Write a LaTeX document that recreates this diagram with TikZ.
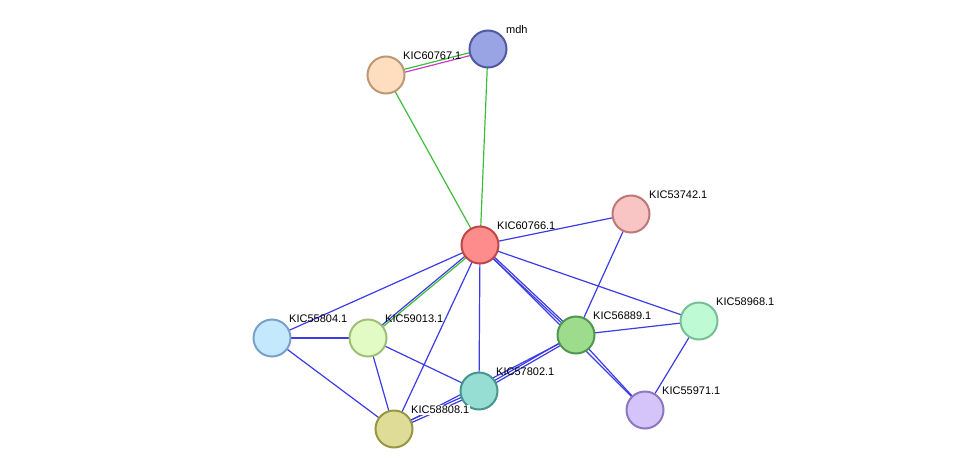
\documentclass[tikz,border=0pt]{standalone}
\usepackage{fontspec}
\setmainfont{Liberation Sans}
\begin{document}
\begin{tikzpicture}[x=1pt,y=-1pt,
  prot/.style={circle,minimum size=37pt,inner sep=0,line width=2pt},
  lab/.style={font=\fontsize{11}{13}\selectfont,inner sep=1pt,anchor=south west},
  b/.style={draw={rgb,255:red,60;green,60;blue,230},line width=1.2pt},
  g/.style={draw={rgb,255:red,60;green,190;blue,60},line width=1.2pt},
  m/.style={draw={rgb,255:red,200;green,60;blue,200},line width=1.2pt}]
\useasboundingbox (0,0) rectangle (975,474);
\def\pn#1#2#3#4#5#6{\coordinate (#1) at (#2,#3);}
\coordinate (a) at (386,75);
\coordinate (mdh) at (488,49);
\coordinate (c) at (480,245);
\coordinate (d) at (631,214);
\coordinate (e) at (699,321);
\coordinate (f) at (576,335);
\coordinate (h) at (645,410);
\coordinate (i) at (479,391);
\coordinate (j) at (394,429);
\coordinate (k) at (368,338);
\coordinate (l) at (272,338);
% edges
\draw[m] ([yshift=-2]a) -- ([yshift=-2]mdh);
\draw[g] ([yshift=1]a) -- ([yshift=1]mdh);
\draw[g] (a) -- (c);
\draw[g] (mdh) -- (c);
\draw[b] (c) -- (d);
\draw[b] (c) -- (e);
\draw[b] ([xshift=-1.5]c) -- ([xshift=-1.5]f);
\draw[b] ([xshift=1.5]c) -- ([xshift=1.5]f);
\draw[b] (c) -- (h);
\draw[b] (c) -- (i);
\draw[b] (c) -- (j);
\draw[b] ([xshift=-1.5]c) -- ([xshift=-1.5]k);
\draw[g] ([xshift=1.5]c) -- ([xshift=1.5]k);
\draw[b] (c) -- (l);
\draw[b] (d) -- (f);
\draw[b] (f) -- (e);
\draw[b] (f) -- (h);
\draw[b] (e) -- (h);
\draw[b] ([yshift=-1.5]f) -- ([yshift=-1.5]i);
\draw[b] ([yshift=1.5]f) -- ([yshift=1.5]i);
\draw[b] (f) -- (j);
\draw[b] (l) -- (k);
\draw[b] (l) -- (j);
\draw[b] (k) -- (j);
\draw[b] (k) -- (i);
\draw[b] ([yshift=-1.5]i) -- ([yshift=-1.5]j);
\draw[b] ([yshift=1.5]i) -- ([yshift=1.5]j);
% nodes
\node[prot,fill={rgb,255:red,254;green,222;blue,190},draw={rgb,255:red,190;green,150;blue,120}] (na) at (a) {};
\node[prot,fill={rgb,255:red,152;green,164;blue,228},draw={rgb,255:red,80;green,90;blue,160}] (nmdh) at (mdh) {};
\node[prot,fill={rgb,255:red,254;green,140;blue,140},draw={rgb,255:red,190;green,70;blue,70}] (nc) at (c) {};
\node[prot,fill={rgb,255:red,248;green,196;blue,196},draw={rgb,255:red,190;green,120;blue,120}] (nd) at (d) {};
\node[prot,fill={rgb,255:red,190;green,250;blue,212},draw={rgb,255:red,120;green,190;blue,150}] (ne) at (e) {};
\node[prot,fill={rgb,255:red,156;green,220;blue,140},draw={rgb,255:red,80;green,150;blue,80}] (nf) at (f) {};
\node[prot,fill={rgb,255:red,212;green,196;blue,250},draw={rgb,255:red,140;green,120;blue,190}] (nh) at (h) {};
\node[prot,fill={rgb,255:red,150;green,222;blue,212},draw={rgb,255:red,70;green,150;blue,140}] (ni) at (i) {};
\node[prot,fill={rgb,255:red,222;green,220;blue,150},draw={rgb,255:red,150;green,150;blue,70}] (nj) at (j) {};
\node[prot,fill={rgb,255:red,226;green,250;blue,196},draw={rgb,255:red,160;green,190;blue,120}] (nk) at (k) {};
\node[prot,fill={rgb,255:red,196;green,232;blue,252},draw={rgb,255:red,120;green,160;blue,200}] (nl) at (l) {};
% labels
\node[lab] at (402,61) {KIC60767.1};
\node[lab] at (505,35) {mdh};
\node[lab] at (496,231) {KIC60766.1};
\node[lab] at (648,200) {KIC53742.1};
\node[lab] at (715,307) {KIC58968.1};
\node[lab] at (592,321) {KIC56889.1};
\node[lab] at (661,396) {KIC55971.1};
\node[lab] at (495,377) {KIC57802.1};
\node[lab,fill=white] at (410,415) {KIC58808.1};
\node[lab] at (384,324) {KIC59013.1};
\node[lab] at (288,324) {KIC55804.1};
\end{tikzpicture}
\end{document}
